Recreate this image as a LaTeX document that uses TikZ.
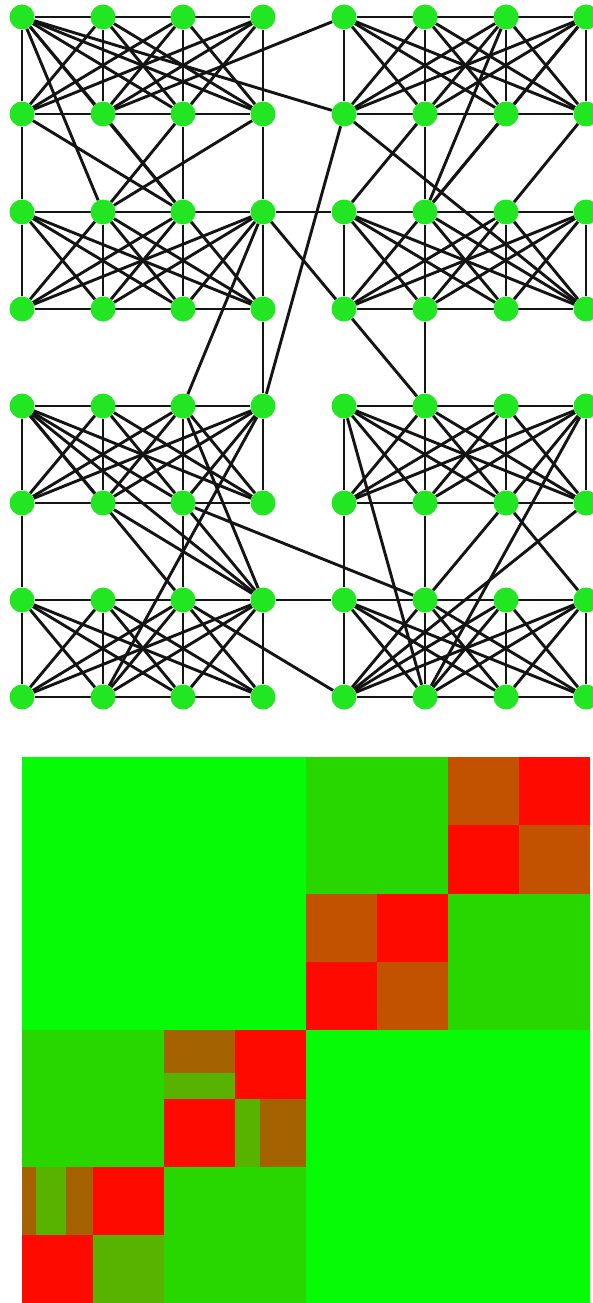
\documentclass[tikz,border=0pt]{standalone}
\usetikzlibrary{backgrounds}
\definecolor{nodegreen}{RGB}{34,230,34}
\definecolor{hbright}{RGB}{6,252,6}
\definecolor{hdark}{RGB}{40,214,0}
\definecolor{hbrown}{RGB}{194,82,0}
\definecolor{holive}{RGB}{165,98,0}
\definecolor{hog}{RGB}{88,178,0}
\definecolor{hred}{RGB}{254,10,0}
% one block of the similarity matrix, in grid units (column, row)
\newcommand\hblock[5]{\fill[#1] ({22+71*#2},{757+68.3*#3}) rectangle ({22+71*#4},{757+68.3*#5});}
\begin{document}
\begin{tikzpicture}[x=1pt,y=-1pt,
  vertex/.style={circle,fill=nodegreen,draw=none,minimum size=25pt,inner sep=0pt},
  link/.style={draw=black!92,line width=2.9pt}]
\useasboundingbox (0,0) rectangle (593,1303);

% 8 x 8 lattice of vertices
\foreach \c/\x in {0/22,1/103,2/183,3/263,4/344,5/425,6/506,7/586}
  \foreach \r/\y in {0/17,1/114,2/212,3/309,4/406,5/503,6/600,7/697}
    \node[vertex] (n\r\c) at (\x,\y) {};

\begin{scope}[on background layer]
  % each group of two rows by four columns is a complete graph
  \foreach \r in {0,2,4,6} {
    \pgfmathtruncatemacro\rnext{\r+1}
    \foreach \s in {0,4} {
      \pgfmathtruncatemacro\cend{\s+3}
      \draw[link] (n\r\s) -- (n\r\cend);
      \draw[link] (n\rnext\s) -- (n\rnext\cend);
      \foreach \i in {0,...,3} {
        \foreach \j in {0,...,3} {
          \pgfmathtruncatemacro\a{\s+\i}
          \pgfmathtruncatemacro\b{\s+\j}
          \draw[link] (n\r\a) -- (n\rnext\b);
        }
      }
    }
  }
  % links between the groups
  \foreach \p/\q in {
      10/20, 12/22, 13/23, 00/21, 00/22, 10/22, 11/22, 12/21, 13/21,
      00/14, 04/11,
      14/37, 15/24, 15/25, 16/25, 07/25, 06/25, 17/26,
      14/43, 23/42, 33/43, 23/24, 23/34, 34/45, 35/45,
      50/60, 52/62, 40/62, 40/63, 51/63, 42/63, 52/63, 43/71,
      52/65, 62/74, 63/64,
      54/64, 55/65, 44/75, 56/65, 47/75, 56/67, 57/74}
    \draw[link] (n\p) -- (n\q);
\end{scope}

% similarity matrix
\fill[hbright] (22,757) rectangle (590,1304);
\hblock{hdark}{4}{0}{6}{2}
\hblock{hdark}{6}{2}{8}{4}
\hblock{hdark}{0}{4}{2}{6}
\hblock{hdark}{2}{6}{4}{8}
% first community
\hblock{hbrown}{6}{0}{7}{1}
\hblock{hred}{7}{0}{8}{1}
\hblock{hred}{6}{1}{7}{2}
\hblock{hbrown}{7}{1}{8}{2}
% second community
\hblock{hbrown}{4}{2}{5}{3}
\hblock{hred}{5}{2}{6}{3}
\hblock{hred}{4}{3}{5}{4}
\hblock{hbrown}{5}{3}{6}{4}
% third community
\hblock{holive}{2}{4}{3}{4.62}
\hblock{hog}{2}{4.62}{3}{5}
\hblock{hred}{3}{4}{4}{5}
\hblock{hred}{2}{5}{3}{6}
\hblock{hog}{3}{5}{3.35}{6}
\hblock{holive}{3.35}{5}{4}{6}
% fourth community
\hblock{holive}{0}{6}{0.2}{7}
\hblock{hog}{0.2}{6}{0.62}{7}
\hblock{holive}{0.62}{6}{1}{7}
\hblock{hred}{1}{6}{2}{7}
\hblock{hred}{0}{7}{1}{8}
\hblock{hog}{1}{7}{2}{8}
\end{tikzpicture}
\end{document}
